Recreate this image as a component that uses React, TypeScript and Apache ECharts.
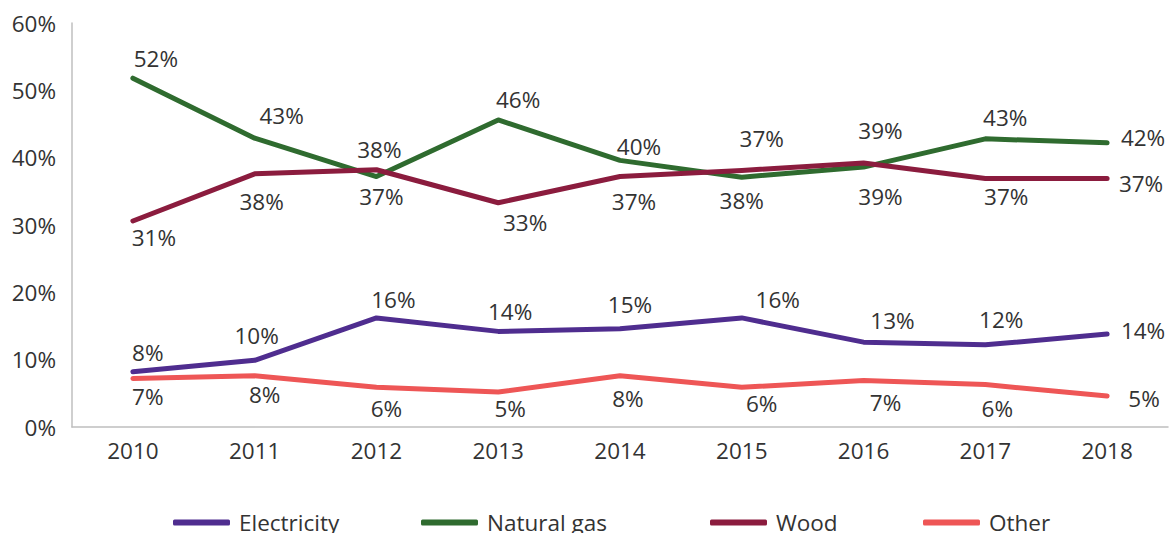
import React, { useEffect, useRef } from "react";
import * as echarts from "echarts";

// Share of each heating source, 2010–2018 (percent)
const years = ["2010", "2011", "2012", "2013", "2014", "2015", "2016", "2017", "2018"];
const electricity = [8.2, 9.9, 16.2, 14.2, 14.6, 16.2, 12.6, 12.2, 13.8];
const naturalGas = [51.8, 42.9, 37.2, 45.6, 39.6, 37.1, 38.6, 42.8, 42.2];
const wood = [30.6, 37.6, 38.2, 33.3, 37.2, 38.1, 39.2, 36.9, 36.9];
const other = [7.2, 7.6, 5.9, 5.2, 7.6, 5.9, 6.9, 6.3, 4.6];

const seriesNames = ["Electricity", "Natural gas", "Wood", "Other"];
const seriesColors = ["#4F2D8F", "#2F6B2F", "#8B1C3E", "#EE5656"];
const yTicks = [0, 10, 20, 30, 40, 50, 60];

// Hand-placed data label centres, as [dx, dy] pixels from each point
const electricityLabelShift = [[15, -17], [2, -23], [17, -16], [12, -18], [10, -22], [36, -16], [29, -20], [16, -23], [36, -2]];
const naturalGasLabelShift = [[23, -18], [27, -21], [5, 22], [20, -18], [19, -12], [20, -37], [17, -35], [20, -19], [36, -3]];
const woodLabelShift = [[21, 19], [7, 30], [3, -18], [27, 22], [14, 27], [0, 32], [17, 35], [21, 20], [34, 7]];
const otherLabelShift = [[15, 20], [10, 21], [10, 23], [12, 19], [8, 25], [20, 18], [22, 24], [12, 26], [37, 5]];

const FONT = "'Open Sans', 'Noto Sans', sans-serif";
const TEXT = "#333333";
const FS = 22.5;

function buildData(values: number[], shifts: number[][]) {
  return values.map((v, i) => ({
    value: v,
    label: {
      show: true,
      position: [shifts[i][0], shifts[i][1] - 2],
      align: "center",
      verticalAlign: "middle",
    },
  }));
}

export default function App() {
  const ref = useRef<HTMLDivElement>(null);

  useEffect(() => {
    if (!ref.current) return;
    const chart = echarts.init(ref.current, undefined, { renderer: "svg" });

    const values = [electricity, naturalGas, wood, other];
    const shifts = [electricityLabelShift, naturalGasLabelShift, woodLabelShift, otherLabelShift];
    const legendLefts = [173, 421, 710, 923];

    chart.setOption({
      animation: false,
      backgroundColor: "#ffffff",
      textStyle: { fontFamily: FONT },
      grid: { left: 72, right: 2, top: 23, bottom: 106, containLabel: false },
      legend: seriesNames.map((name, i) => ({
        data: [name],
        left: legendLefts[i],
        top: 511,
        padding: 0,
        icon: "roundRect",
        itemWidth: 57,
        itemHeight: 6,
        textStyle: { fontFamily: FONT, fontSize: FS, color: TEXT, padding: [0, 0, 0, 4] },
        selectedMode: false,
      })),
      xAxis: {
        type: "category",
        data: years,
        boundaryGap: true,
        axisLine: { show: true, lineStyle: { color: "#BFBFBF", width: 1.5 } },
        axisTick: { show: false },
        axisLabel: { fontFamily: FONT, fontSize: FS, color: TEXT, margin: 12 },
        splitLine: { show: false },
      },
      yAxis: {
        type: "value",
        min: yTicks[0],
        max: yTicks[yTicks.length - 1],
        interval: 10,
        axisLine: { show: true, lineStyle: { color: "#BFBFBF", width: 1.5 } },
        axisTick: { show: false },
        splitLine: { show: false },
        axisLabel: {
          fontFamily: FONT,
          fontSize: FS,
          color: TEXT,
          margin: 16,
          formatter: (v: number) => `${v}%`,
        },
      },
      series: seriesNames.map((name, i) => ({
        name,
        type: "line",
        data: buildData(values[i], shifts[i]),
        symbol: "circle",
        symbolSize: 0.1,
        showSymbol: true,
        color: seriesColors[i],
        itemStyle: { color: seriesColors[i] },
        lineStyle: { width: 5, color: seriesColors[i], cap: "round", join: "round" },
        label: {
          show: true,
          fontFamily: FONT,
          fontSize: FS,
          color: TEXT,
          formatter: (p: any) => `${Math.round(p.value)}%`,
        },
        labelLayout: { hideOverlap: false },
        z: 2 + i,
      })),
    });

    return () => chart.dispose();
  }, []);

  return (
    <div
      ref={ref}
      style={{ position: "fixed", left: 0, top: 0, width: 1170, height: 533, background: "#fff" }}
    />
  );
}
